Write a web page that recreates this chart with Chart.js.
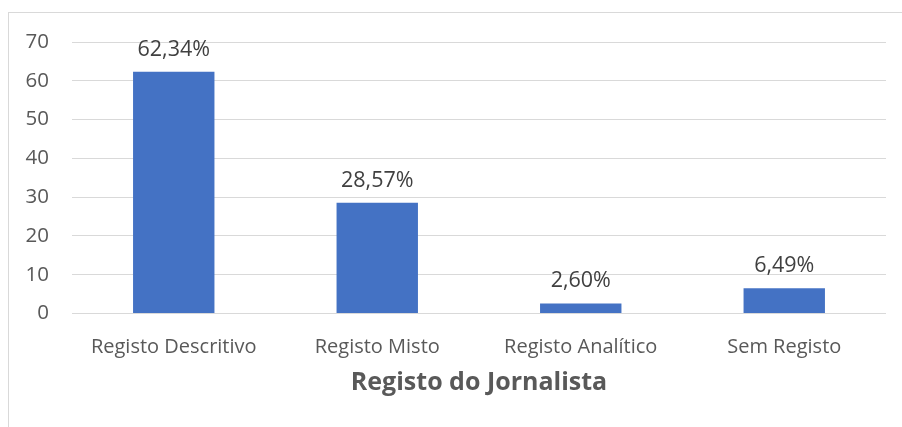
<!DOCTYPE html>
<html lang="pt">
<head>
<meta charset="UTF-8">
<title>Registo do Jornalista</title>
<script src="https://cdn.jsdelivr.net/npm/chart.js"></script>
<style>
    html, body { margin: 0; padding: 0; background: #ffffff; }
    .wrap { position: relative; width: 902px; height: 427px; overflow: hidden; }
    .frame { position: absolute; left: 8px; top: 12px; width: 920px; height: 440px;
             border-top: 1px solid #d9d9d9; border-left: 1px solid #d9d9d9; }
    canvas { position: absolute; left: 0; top: 0; }
</style>
</head>
<body>
<div class="wrap">
    <div class="frame"></div>
    <canvas id="chart" width="902" height="427"></canvas>
</div>
<script>
    const categorias = ['Registo Descritivo', 'Registo Misto', 'Registo Analítico', 'Sem Registo'];
    const percentagens = [62.34, 28.57, 2.60, 6.49];
    const eixoMax = 70;
    const eixoPasso = 10;

    const fonte = "'Open Sans', 'Liberation Sans', sans-serif";

    // etiquetas com o valor por cima de cada barra
    const rotulos = {
        id: 'rotulos',
        afterDatasetsDraw(chart) {
            const ctx = chart.ctx;
            const meta = chart.getDatasetMeta(0);
            ctx.save();
            ctx.font = '21.5px ' + fonte;
            ctx.fillStyle = '#404040';
            ctx.textAlign = 'center';
            ctx.textBaseline = 'alphabetic';
            meta.data.forEach((bar, i) => {
                const txt = percentagens[i].toFixed(2).replace('.', ',') + '%';
                ctx.fillText(txt, bar.x, bar.y - 16);
            });
            ctx.restore();
        }
    };

    new Chart(document.getElementById('chart'), {
        type: 'bar',
        data: {
            labels: categorias,
            datasets: [{
                data: percentagens,
                backgroundColor: '#4472c4',
                categoryPercentage: 1,
                barPercentage: 0.4
            }]
        },
        options: {
            responsive: false,
            animation: false,
            layout: { padding: { top: 42, right: 16, bottom: 0, left: 0 } },
            plugins: {
                legend: { display: false },
                tooltip: { enabled: false }
            },
            scales: {
                x: {
                    grid: { display: false, drawTicks: false },
                    border: { display: false },
                    ticks: { color: '#595959', font: { family: fonte, size: 20 }, padding: 22 },
                    title: {
                        display: true,
                        text: 'Registo do Jornalista',
                        color: '#595959',
                        font: { family: fonte, size: 25, weight: 'bold' },
                        padding: { top: 10, bottom: 29 }
                    },
                    afterFit(s) { s.height = 113.5; }
                },
                y: {
                    min: 0,
                    max: eixoMax,
                    grid: { color: '#d9d9d9', lineWidth: 1, drawTicks: false },
                    border: { display: false },
                    ticks: { stepSize: eixoPasso, color: '#595959', font: { family: fonte, size: 20.5 }, padding: 23 },
                    afterFit(s) { s.width = 72; }
                }
            }
        },
        plugins: [rotulos]
    });
</script>
</body>
</html>
